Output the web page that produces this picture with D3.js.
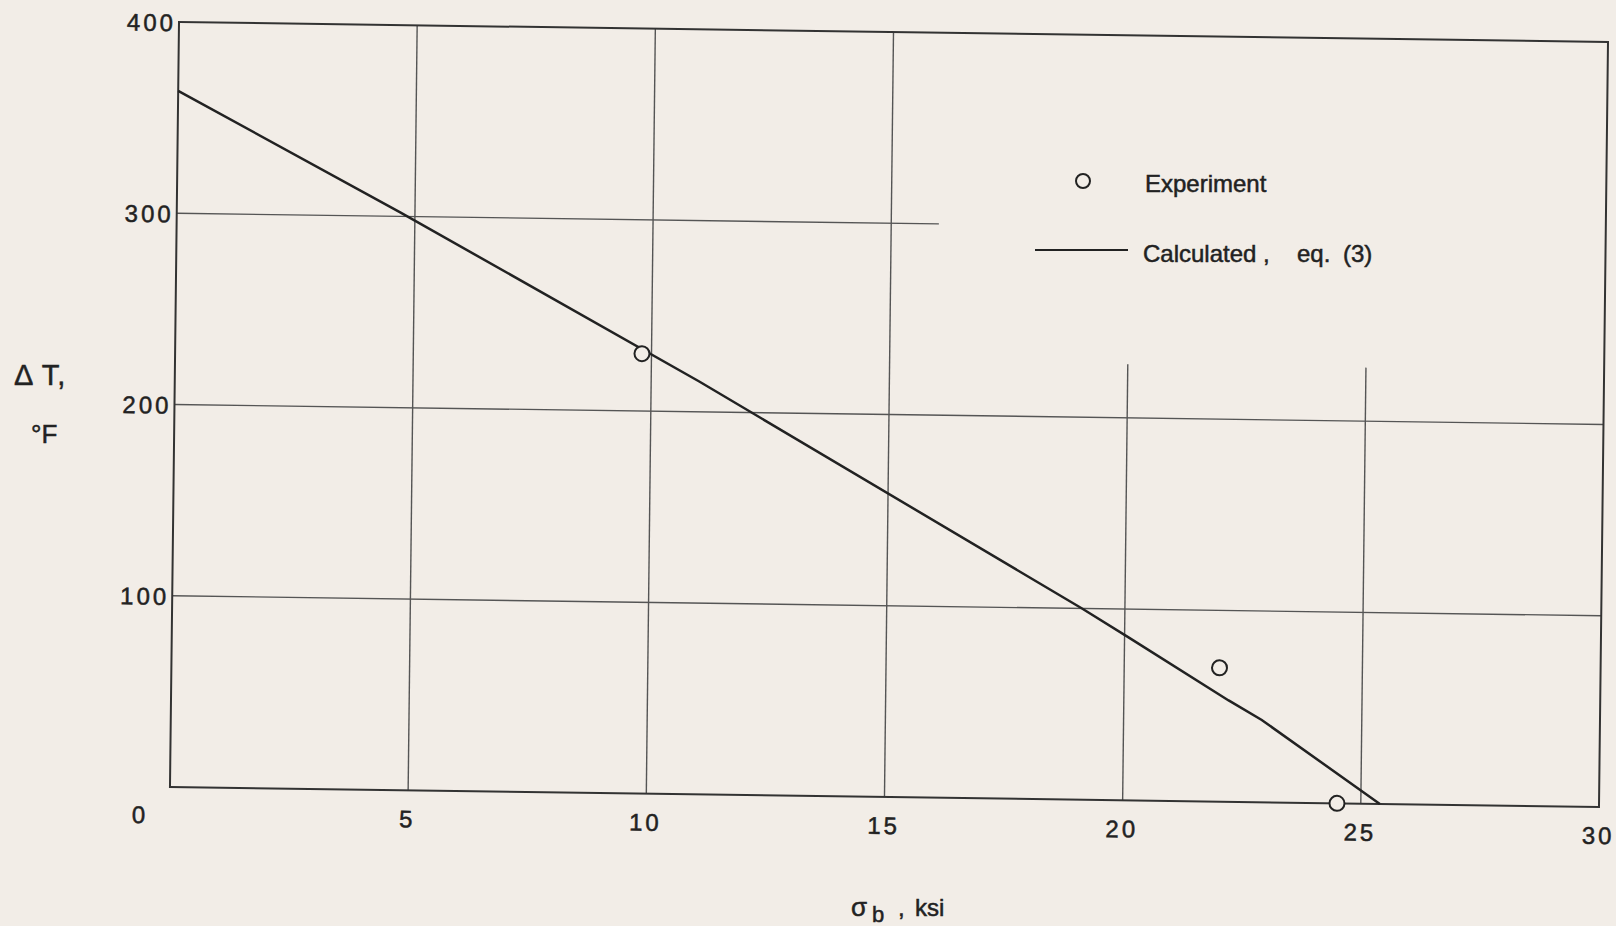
<!DOCTYPE html>
<html>
<head>
<meta charset="utf-8">
<script src="https://cdn.jsdelivr.net/npm/d3@7"></script>
<style>
  body { margin: 0; background: #f2ede7; }
  svg { display: block; }
  text { font-family: "Liberation Sans", Arial, sans-serif; fill: #222; stroke: #222; stroke-width: 0.5px; }
</style>
</head>
<body>
<script>
const xTicks = [5, 10, 15, 20, 25, 30];
const yTicks = [100, 200, 300, 400];

// experiment points
const expX = [9.8, 22.0, 24.5];
const expY = [230, 70, 0];

// calculated, eq. (3)
const calcX = [0, 4.7, 11, 19.1, 20.1, 22.2, 22.9, 25.4];
const calcY = [364, 302, 216, 100, 85, 53, 43, 0];

// grid lines (some of them stop part way)
const vGridX = [5, 10, 15, 20, 25];
const vGridTop = [400, 400, 400, 228, 228];
const hGridY = [100, 200, 300];
const hGridEnd = [30, 30, 16];

const w = 1616;
const h = 926;
const W = 1429;
const H = 765;

const svg = d3.select("body")
              .append("svg")
              .attr("width", w)
              .attr("height", h);

svg.append("rect")
  .attr("width", w)
  .attr("height", h)
  .attr("fill", "#f2ede7");

// the scan sits a little crooked, so the plot frame is skewed to match
const g = svg.append("g")
             .attr("transform", "matrix(1,0.014,-0.0118,1,179,22)");

const xScale = d3.scaleLinear().domain([0, 30]).range([0, W]);
const yScale = d3.scaleLinear().domain([0, 400]).range([H, 0]);

// grid
g.selectAll(".vgrid")
  .data(vGridX)
  .enter()
  .append("line")
  .attr("class", "vgrid")
  .attr("x1", d => xScale(d))
  .attr("x2", d => xScale(d))
  .attr("y1", yScale(0))
  .attr("y2", (d, i) => yScale(vGridTop[i]))
  .attr("stroke", "#555")
  .attr("stroke-width", 1.4);

g.selectAll(".hgrid")
  .data(hGridY)
  .enter()
  .append("line")
  .attr("class", "hgrid")
  .attr("x1", xScale(0))
  .attr("x2", (d, i) => xScale(hGridEnd[i]))
  .attr("y1", d => yScale(d))
  .attr("y2", d => yScale(d))
  .attr("stroke", "#555")
  .attr("stroke-width", 1.4);

// frame
g.append("rect")
  .attr("x", 0)
  .attr("y", 0)
  .attr("width", W)
  .attr("height", H)
  .attr("fill", "none")
  .attr("stroke", "#333")
  .attr("stroke-width", 2);

// axes
const xAxis = d3.axisBottom(xScale).tickValues(xTicks).tickSize(0).tickPadding(20);
const yAxis = d3.axisLeft(yScale).tickValues(yTicks).tickSize(0).tickPadding(3);

const gx = g.append("g")
  .attr("transform", "translate(0," + H + ")")
  .call(xAxis);
const gy = g.append("g")
  .call(yAxis);

[gx, gy].forEach(a => {
  a.select(".domain").remove();
  a.attr("font-family", null).attr("font-size", null);
  a.selectAll("text")
    .attr("fill", "#222")
    .style("font-size", "24px")
    .style("letter-spacing", "3px");
});
gx.selectAll("text").attr("dx", "-1px");
gy.selectAll("text").attr("dy", "0.36em");

// shared origin label
g.append("text")
  .attr("x", xScale(0) - 31)
  .attr("y", yScale(0) + 28)
  .attr("text-anchor", "middle")
  .attr("dominant-baseline", "central")
  .style("font-size", "24px")
  .text("0");

// calculated line
const line = d3.line()
               .x((d, i) => xScale(calcX[i]))
               .y((d, i) => yScale(calcY[i]));

g.append("path")
  .datum(calcX)
  .attr("d", line)
  .attr("fill", "none")
  .attr("stroke", "#222")
  .attr("stroke-width", 2.5);

// experiment circles
g.selectAll(".exp")
  .data(expX)
  .enter()
  .append("circle")
  .attr("class", "exp")
  .attr("cx", d => xScale(d))
  .attr("cy", (d, i) => yScale(expY[i]))
  .attr("r", 7.5)
  .attr("fill", "#f2ede7")
  .attr("stroke", "#222")
  .attr("stroke-width", 2);

// axis titles
svg.append("text")
  .attr("x", 14)
  .attr("y", 385)
  .style("font-size", "29px")
  .style("letter-spacing", "1px")
  .text("Δ T,");

svg.append("text")
  .attr("x", 31)
  .attr("y", 443)
  .style("font-size", "26px")
  .text("°F");

svg.append("text").attr("x", 851).attr("y", 916).style("font-size", "26px").text("σ");
svg.append("text").attr("x", 872).attr("y", 922).style("font-size", "22px").text("b");
svg.append("text").attr("x", 898).attr("y", 916).style("font-size", "24px").text(",");
svg.append("text").attr("x", 915).attr("y", 916).style("font-size", "24px").text("ksi");

// legend
svg.append("circle")
  .attr("cx", 1083)
  .attr("cy", 181)
  .attr("r", 7)
  .attr("fill", "none")
  .attr("stroke", "#222")
  .attr("stroke-width", 2);

svg.append("text").attr("x", 1145).attr("y", 192).style("font-size", "24px").text("Experiment");

svg.append("line")
  .attr("x1", 1035)
  .attr("x2", 1128)
  .attr("y1", 250)
  .attr("y2", 250)
  .attr("stroke", "#222")
  .attr("stroke-width", 2);

svg.append("text").attr("x", 1143).attr("y", 262).style("font-size", "24px").text("Calculated ,");
svg.append("text").attr("x", 1297).attr("y", 262).style("font-size", "24px").text("eq.");
svg.append("text").attr("x", 1343).attr("y", 262).style("font-size", "24px").text("(3)");
</script>
</body>
</html>
